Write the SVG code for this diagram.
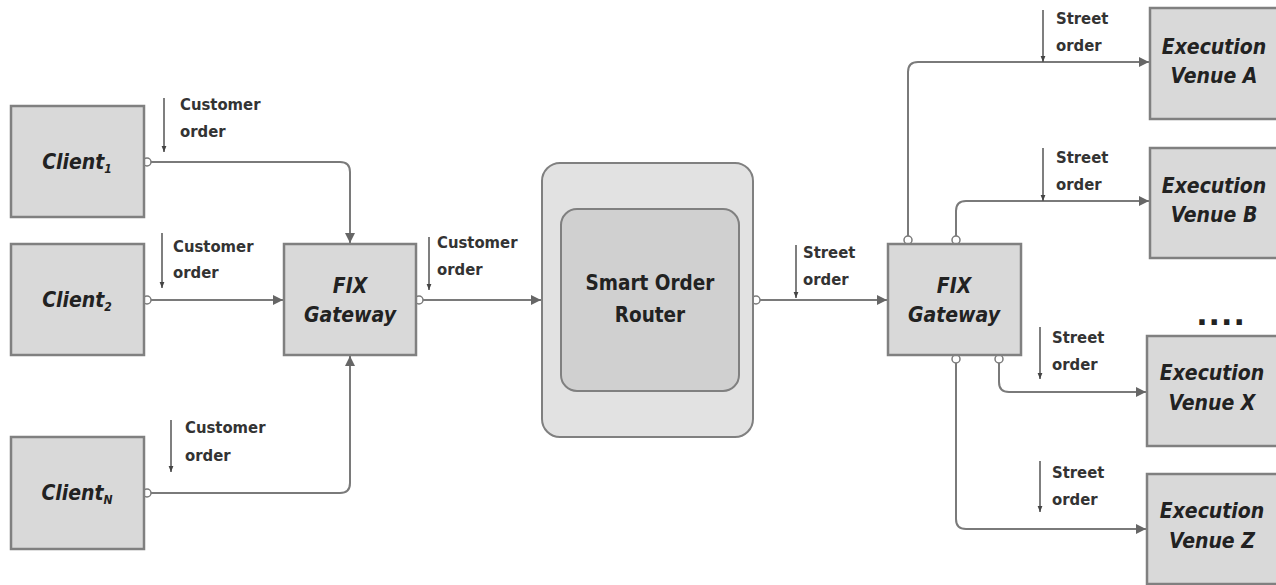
<svg xmlns="http://www.w3.org/2000/svg" width="1276" height="585" viewBox="0 0 1276 585">
<defs>
<marker id="ah" viewBox="0 0 10 10" refX="10" refY="5" markerWidth="5" markerHeight="5" orient="auto" markerUnits="strokeWidth"><path d="M0,0 L10,5 L0,10 z" fill="#666"/></marker>
<marker id="sh" viewBox="0 0 10 10" refX="10" refY="5" markerWidth="4" markerHeight="4" orient="auto" markerUnits="strokeWidth"><path d="M0,1 L10,5 L0,9 z" fill="#444"/></marker>
</defs>
<style>
.box{fill:#d9d9d9;stroke:#808080;stroke-width:2.5}
.outer{fill:#e2e2e2;stroke:#808080;stroke-width:2}
.inner{fill:#d0d0d0;stroke:#808080;stroke-width:2}
.node{font-family:"DejaVu Sans Condensed","DejaVu Sans",sans-serif;font-weight:bold;font-style:italic;font-size:21px;fill:#222;text-anchor:middle}
.sor{font-family:"DejaVu Sans Condensed","DejaVu Sans",sans-serif;font-weight:bold;font-size:20.5px;fill:#222;text-anchor:middle}
.dots{font-family:"DejaVu Sans","Liberation Sans",sans-serif;font-weight:bold;font-size:30px;letter-spacing:1px;fill:#222;text-anchor:middle}
.lbl{font-family:"DejaVu Sans Condensed","DejaVu Sans",sans-serif;font-weight:bold;font-size:16.5px;fill:#333}
.conn{fill:none;stroke:#7a7a7a;stroke-width:2;marker-end:url(#ah)}
.port{fill:#fff;stroke:#7a7a7a;stroke-width:1.5}
.la{stroke:#555;stroke-width:1.5;marker-end:url(#sh)}
</style>

<g id="connectors">
<path class="conn" d="M150,162 H340 Q350,162 350,172 V243"/>
<path class="conn" d="M150,300 H283"/>
<path class="conn" d="M150,493 H340 Q350,493 350,483 V356"/>
<path class="conn" d="M422,300 H541"/>
<path class="conn" d="M759,300 H887"/>
<path class="conn" d="M908,237 V72 Q908,62 918,62 H1149"/>
<path class="conn" d="M956,237 V211 Q956,201 966,201 H1149"/>
<path class="conn" d="M999,362 V382 Q999,392 1009,392 H1146"/>
<path class="conn" d="M956,362 V519 Q956,529 966,529 H1146"/>
<circle class="port" cx="147" cy="162" r="4"/>
<circle class="port" cx="147" cy="300" r="4"/>
<circle class="port" cx="147" cy="493" r="4"/>
<circle class="port" cx="419" cy="300" r="4"/>
<circle class="port" cx="756" cy="300" r="4"/>
<circle class="port" cx="908" cy="240" r="4"/>
<circle class="port" cx="956" cy="240" r="4"/>
<circle class="port" cx="956" cy="359" r="4"/>
<circle class="port" cx="999" cy="359" r="4"/>
</g>

<g id="label-c1">
<line class="la" x1="164" y1="98" x2="164" y2="152"/>
<text class="lbl" x="180" y="110">Customer</text>
<text class="lbl" x="180" y="137">order</text>
</g>
<g id="label-c2">
<line class="la" x1="162" y1="233" x2="162" y2="288"/>
<text class="lbl" x="173" y="252">Customer</text>
<text class="lbl" x="173" y="278">order</text>
</g>
<g id="label-cn">
<line class="la" x1="171" y1="420" x2="171" y2="472"/>
<text class="lbl" x="185" y="433">Customer</text>
<text class="lbl" x="185" y="461">order</text>
</g>
<g id="label-gw">
<line class="la" x1="429" y1="237" x2="429" y2="290"/>
<text class="lbl" x="437" y="248">Customer</text>
<text class="lbl" x="437" y="275">order</text>
</g>
<g id="label-sor">
<line class="la" x1="796" y1="245" x2="796" y2="298"/>
<text class="lbl" x="803" y="258">Street</text>
<text class="lbl" x="803" y="285">order</text>
</g>
<g id="label-a">
<line class="la" x1="1043" y1="10" x2="1043" y2="62"/>
<text class="lbl" x="1056" y="24">Street</text>
<text class="lbl" x="1056" y="51">order</text>
</g>
<g id="label-b">
<line class="la" x1="1043" y1="148" x2="1043" y2="201"/>
<text class="lbl" x="1056" y="163">Street</text>
<text class="lbl" x="1056" y="190">order</text>
</g>
<g id="label-x">
<line class="la" x1="1040" y1="327" x2="1040" y2="379"/>
<text class="lbl" x="1052" y="343">Street</text>
<text class="lbl" x="1052" y="370">order</text>
</g>
<g id="label-z">
<line class="la" x1="1040" y1="461" x2="1040" y2="512"/>
<text class="lbl" x="1052" y="478">Street</text>
<text class="lbl" x="1052" y="505">order</text>
</g>

<g id="client1">
<rect class="box" x="11" y="106" width="133" height="111"/>
<text class="node" x="77" y="169">Client<tspan font-size="12" dy="4">1</tspan></text>
</g>
<g id="client2">
<rect class="box" x="11" y="244" width="133" height="111"/>
<text class="node" x="77" y="307">Client<tspan font-size="12" dy="4">2</tspan></text>
</g>
<g id="clientN">
<rect class="box" x="11" y="437" width="133" height="112"/>
<text class="node" x="77" y="500">Client<tspan font-size="12" dy="4">N</tspan></text>
</g>
<g id="fix-gateway-1">
<rect class="box" x="284" y="244" width="132" height="111"/>
<text class="node" x="350" y="293">FIX</text>
<text class="node" x="350" y="322">Gateway</text>
</g>
<g id="smart-order-router">
<rect class="outer" x="542" y="163" width="211" height="274" rx="18"/>
<rect class="inner" x="561" y="209" width="178" height="182" rx="16"/>
<text class="sor" x="650" y="290">Smart Order</text>
<text class="sor" x="650" y="322">Router</text>
</g>
<g id="fix-gateway-2">
<rect class="box" x="888" y="244" width="133" height="111"/>
<text class="node" x="954" y="293">FIX</text>
<text class="node" x="954" y="322">Gateway</text>
</g>
<g id="venue-a">
<rect class="box" x="1150" y="8" width="130" height="111"/>
<text class="node" x="1214" y="54">Execution</text>
<text class="node" x="1214" y="83">Venue A</text>
</g>
<g id="venue-b">
<rect class="box" x="1150" y="148" width="130" height="110"/>
<text class="node" x="1214" y="193">Execution</text>
<text class="node" x="1214" y="222">Venue B</text>
</g>
<g id="ellipsis">
<text class="dots" x="1221" y="325">....</text>
</g>
<g id="venue-x">
<rect class="box" x="1147" y="336" width="133" height="110"/>
<text class="node" x="1212" y="380">Execution</text>
<text class="node" x="1212" y="410">Venue X</text>
</g>
<g id="venue-z">
<rect class="box" x="1147" y="474" width="133" height="110"/>
<text class="node" x="1212" y="518">Execution</text>
<text class="node" x="1212" y="548">Venue Z</text>
</g>
</svg>
